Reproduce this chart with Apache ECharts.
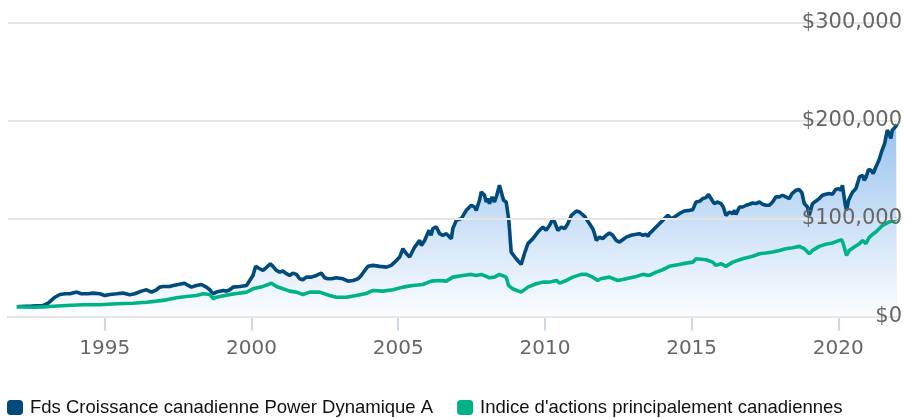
<!DOCTYPE html>
<html><head><meta charset="utf-8">
<script src="https://cdn.jsdelivr.net/npm/echarts@6/dist/echarts.min.js"></script>
<style>html,body{margin:0;padding:0;background:#fff}#c{width:905px;height:418px}</style>
</head><body><div id="c"></div>
<script>
const seriesNames = ["Fds Croissance canadienne Power Dynamique A", "Indice d'actions principalement canadiennes"];
const xTickYears = [1995, 2000, 2005, 2010, 2015, 2020];
const yTicks = [0, 100000, 200000, 300000];

const fundYears = [1992.00,1992.10,1992.50,1992.90,1993.07,1993.30,1993.47,1993.64,1993.81,1994.04,1994.20,1994.43,1994.60,1994.83,1995.00,1995.17,1995.40,1995.62,1995.85,1996.02,1996.25,1996.42,1996.59,1996.76,1996.87,1996.99,1997.21,1997.33,1997.50,1997.72,1997.84,1997.95,1998.12,1998.29,1998.46,1998.58,1998.69,1998.80,1999.03,1999.14,1999.26,1999.37,1999.60,1999.83,1999.94,2000.05,2000.14,2000.28,2000.39,2000.50,2000.64,2000.73,2000.85,2000.96,2001.07,2001.19,2001.30,2001.41,2001.53,2001.64,2001.75,2001.87,2002.04,2002.21,2002.38,2002.49,2002.60,2002.72,2002.89,2003.12,2003.29,2003.46,2003.63,2003.74,2003.86,2003.97,2004.14,2004.37,2004.60,2004.76,2004.88,2005.05,2005.16,2005.28,2005.39,2005.56,2005.73,2005.79,2005.90,2006.05,2006.12,2006.18,2006.30,2006.41,2006.52,2006.64,2006.81,2006.86,2006.98,2007.15,2007.32,2007.49,2007.60,2007.66,2007.77,2007.83,2007.94,2008.00,2008.05,2008.11,2008.20,2008.28,2008.36,2008.45,2008.51,2008.59,2008.68,2008.77,2008.85,2009.02,2009.19,2009.30,2009.42,2009.59,2009.76,2009.82,2009.93,2010.04,2010.16,2010.27,2010.33,2010.44,2010.56,2010.67,2010.78,2010.90,2011.07,2011.18,2011.35,2011.52,2011.63,2011.69,2011.75,2011.86,2011.97,2012.09,2012.20,2012.31,2012.43,2012.54,2012.65,2012.77,2012.94,2013.11,2013.22,2013.34,2013.45,2013.51,2013.56,2013.68,2013.85,2014.02,2014.19,2014.30,2014.41,2014.58,2014.75,2014.93,2015.04,2015.15,2015.27,2015.38,2015.49,2015.58,2015.66,2015.77,2015.89,2016.00,2016.08,2016.17,2016.29,2016.40,2016.46,2016.51,2016.63,2016.74,2016.86,2016.97,2017.08,2017.19,2017.31,2017.42,2017.53,2017.65,2017.76,2017.87,2017.99,2018.10,2018.21,2018.33,2018.42,2018.56,2018.67,2018.76,2018.84,2018.95,2019.01,2019.12,2019.24,2019.29,2019.35,2019.46,2019.57,2019.69,2019.80,2019.91,2020.01,2020.09,2020.14,2020.24,2020.28,2020.35,2020.43,2020.49,2020.60,2020.72,2020.83,2020.88,2020.94,2021.03,2021.11,2021.19,2021.28,2021.39,2021.46,2021.58,2021.67,2021.73,2021.79,2021.84,2021.90,2021.97,2022.00];
const fundValues = [10000,10200,10600,11300,13600,19700,22500,23200,23200,24900,23200,23200,23900,23200,21500,22500,23200,23900,22200,23200,25900,27300,24900,27300,30000,30700,30700,31700,32700,34000,31700,30000,31700,32700,30000,27300,23200,24900,26600,25900,27300,30000,30700,31700,36800,41900,51200,48800,47000,49800,53900,51200,47000,45300,46400,43700,41900,44300,43000,38500,37500,40200,40200,41900,44300,39600,38500,38500,39600,38500,36100,36800,38500,41900,47000,51200,52200,51200,50400,52200,55500,60700,69200,64100,60700,70900,77700,72600,77700,88000,82900,89700,91400,84600,82900,84600,79500,89700,98200,99900,108400,113600,111800,108400,118700,127200,123800,116900,120400,115300,122100,116900,123800,134000,132300,118700,116900,98200,65800,59000,53200,64100,74400,79500,86200,84600,91400,88000,93100,99900,96500,88000,91400,89700,94800,103300,107700,106700,102300,94800,89700,84600,77700,81100,79500,82900,85200,82900,77700,76000,78400,81100,82900,83900,84600,82900,83900,81800,84600,88000,93100,98200,103300,99900,101600,105000,107700,108400,109100,116900,117600,120400,121400,124800,120400,115300,116900,115300,111800,103300,106700,105000,108400,104300,111800,111800,113600,114600,115900,115300,116900,114600,113600,113600,116900,122100,122100,123800,122100,120400,125500,128900,129600,126200,115300,111800,103300,115300,118000,116900,120400,123800,124800,125500,124800,129600,130600,128900,134000,113600,108400,118700,123800,127200,130600,142500,144200,139100,141900,150100,149400,146000,152700,160000,167000,176700,190300,186900,181800,190300,188500,194400,196400];

const indexYears = [1992.00,1992.30,1992.60,1992.90,1993.01,1993.24,1993.70,1994.26,1994.83,1995.40,1995.96,1996.42,1996.76,1997.10,1997.44,1997.78,1998.12,1998.35,1998.58,1998.69,1998.80,1999.14,1999.60,1999.83,2000.05,2000.39,2000.68,2000.85,2001.07,2001.30,2001.53,2001.75,2001.98,2002.32,2002.66,2002.89,2003.23,2003.57,2003.91,2004.14,2004.48,2004.82,2005.16,2005.50,2005.84,2006.12,2006.41,2006.64,2006.86,2007.20,2007.49,2007.66,2007.83,2008.11,2008.28,2008.45,2008.68,2008.76,2008.90,2009.19,2009.42,2009.70,2009.93,2010.16,2010.39,2010.50,2010.73,2010.95,2011.24,2011.41,2011.63,2011.80,2011.90,2012.20,2012.48,2012.77,2013.11,2013.34,2013.56,2013.79,2014.02,2014.24,2014.58,2014.81,2015.04,2015.15,2015.49,2015.72,2015.83,2016.00,2016.17,2016.40,2016.74,2017.08,2017.31,2017.53,2017.76,2017.99,2018.21,2018.44,2018.67,2018.84,2019.01,2019.12,2019.35,2019.57,2019.80,2020.03,2020.12,2020.20,2020.28,2020.37,2020.54,2020.72,2020.83,2020.94,2021.06,2021.17,2021.28,2021.51,2021.73,2021.95,2022.00];
const indexValues = [10000,9700,9500,9800,10000,10500,11300,12000,12000,13000,13600,14600,15700,17000,19100,20500,21500,23200,22500,18100,19700,21800,23900,24900,28300,30700,34000,30700,28300,25900,24900,22500,24900,24900,21500,19700,19700,21500,23500,26600,25900,27300,30000,31700,32700,36100,36800,36100,40200,41900,43000,41900,43000,39600,40200,43000,40200,31700,28300,24900,30000,33400,35100,35100,36800,34000,36800,40200,43000,43000,40200,36800,38500,40200,36800,38500,40900,43000,41900,45300,47800,51200,53200,54500,55500,59000,58000,55500,52200,53900,51200,55500,59000,61400,64100,64800,65800,67500,69200,70300,71600,69200,64100,67500,71600,73700,75000,77700,78400,70900,62400,67500,70900,74400,77700,74400,81100,83900,86200,93100,96500,98900,100000];

const pair = (xs, ys) => xs.map((x, i) => [x, ys[i]]);
const fmt = v => '$' + v.toLocaleString('en-US');
const axisFont = "'DejaVu Sans', sans-serif";

const chart = echarts.init(document.getElementById('c'), null, {renderer: 'canvas'});
chart.setOption({
  animation: false,
  backgroundColor: '#ffffff',
  grid: {left: 8, right: 7, top: 22.7, bottom: 101.5, containLabel: false},
  legend: {
    data: seriesNames,
    left: 2, top: 393,
    icon: 'roundRect',
    itemWidth: 16, itemHeight: 15, itemGap: 24,
    textStyle: {fontFamily: "'Liberation Sans', Arial, sans-serif", fontSize: 18.5, color: '#111', padding: [0, 0, 0, 2]}
  },
  xAxis: {
    type: 'value', min: 1991.7, max: 2022.0,
    splitLine: {show: false},
    axisLine: {show: true, lineStyle: {color: '#ccd6eb', width: 2}},
    axisTick: {show: true, length: 14, lineStyle: {color: '#ccd6eb', width: 2}, customValues: xTickYears},
    axisLabel: {customValues: xTickYears, color: '#666', fontFamily: axisFont, fontSize: 20, margin: 22, formatter: v => String(v)}
  },
  yAxis: {
    type: 'value', position: 'right', min: 0, max: 300000, interval: 100000,
    z: 10,
    axisLine: {show: false}, axisTick: {show: false},
    splitLine: {show: true, lineStyle: {color: '#e6e6e6', width: 2}},
    axisLabel: {inside: false, align: 'right', margin: 5, color: '#666', fontFamily: axisFont, fontSize: 21, padding: [3, 0, 0, 0], formatter: v => fmt(v)}
  },
  series: [
    {
      name: seriesNames[0], type: 'line', data: pair(fundYears, fundValues),
      showSymbol: false, symbol: 'none', z: 3,
      lineStyle: {color: '#004a7c', width: 3.6},
      itemStyle: {color: '#004a7c'},
      areaStyle: {color: {type: 'linear', x: 0, y: 0, x2: 0, y2: 1, colorStops: [
        {offset: 0, color: '#6fa9e8'}, {offset: 1, color: '#fafcff'}]}}
    },
    {
      name: seriesNames[1], type: 'line', data: pair(indexYears, indexValues),
      showSymbol: false, symbol: 'none', z: 4,
      lineStyle: {color: '#00b386', width: 3.6},
      itemStyle: {color: '#00b386'}
    }
  ]
});
</script></body></html>
